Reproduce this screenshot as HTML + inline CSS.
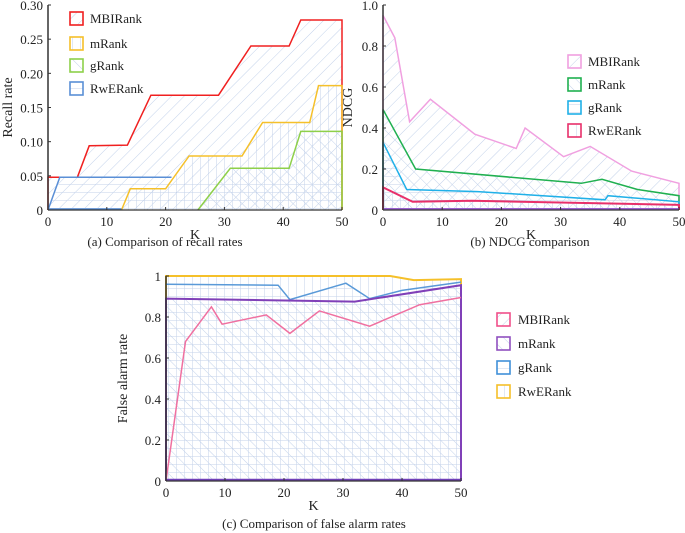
<!DOCTYPE html>
<html><head><meta charset="utf-8"><style>
body{margin:0;background:#fff;}
svg{display:block;font-family:"Liberation Serif",serif;}
</style></head><body>
<svg id="s" width="685" height="533" viewBox="0 0 685 533">
<defs>
<pattern id="hd" width="9" height="9" patternUnits="userSpaceOnUse" patternTransform="rotate(45)"><line x1="0" y1="0" x2="0" y2="9" stroke="#c3d2ea" stroke-width="1"/></pattern>
<pattern id="hb" width="9" height="9" patternUnits="userSpaceOnUse" patternTransform="rotate(-45)"><line x1="0" y1="0" x2="0" y2="9" stroke="#c3d2ea" stroke-width="1"/></pattern>
<pattern id="hv" width="8" height="8" patternUnits="userSpaceOnUse"><line x1="0" y1="0" x2="0" y2="8" stroke="#c3d2ea" stroke-width="1"/></pattern>
<pattern id="hh" width="8" height="8" patternUnits="userSpaceOnUse"><line x1="0" y1="0" x2="8" y2="0" stroke="#c3d2ea" stroke-width="1"/></pattern>
</defs>
</svg>
<script>
const NS='http://www.w3.org/2000/svg';
const svg=document.getElementById('s');
function el(t,a,p){const e=document.createElementNS(NS,t);for(const k in a)e.setAttribute(k,a[k]);(p||svg).appendChild(e);return e;}

// Chart A data
const aXTicks=[0,10,20,30,40,50];
const aYTicks=[0,0.05,0.10,0.15,0.20,0.25,0.30];
const aYLabels=['0','0.05','0.10','0.15','0.20','0.25','0.30'];
const aMBI_K=[0,0,5,7,13.5,17.5,29,34.5,41,43,50];
const aMBI_V=[0,0.048,0.048,0.094,0.095,0.168,0.168,0.24,0.24,0.278,0.278];
const aM_K=[12.5,14,20,24,33,36.5,44.5,46,50];
const aM_V=[0,0.031,0.031,0.079,0.079,0.128,0.128,0.182,0.182];
const aG_K=[25.5,31,41,43,50];
const aG_V=[0,0.061,0.061,0.115,0.115];
const aR_K=[0,2,21];
const aR_V=[0,0.048,0.048];

// Chart B data
const bXTicks=[0,10,20,30,40,50];
const bYTicks=[0,0.2,0.4,0.6,0.8,1.0];
const bYLabels=['0','0.2','0.4','0.6','0.8','1.0'];
const bMBI_K=[0,2,4.5,8,15.5,22.5,24,30.5,35,42,50];
const bMBI_V=[0.95,0.84,0.43,0.54,0.37,0.30,0.40,0.26,0.31,0.19,0.13];
const bM_K=[0,5.5,33.5,37,43,50];
const bM_V=[0.49,0.20,0.13,0.15,0.10,0.07];
const bG_K=[0,4,16,37.5,38,50];
const bG_V=[0.33,0.10,0.09,0.05,0.07,0.04];
const bR_K=[0,5,15,50];
const bR_V=[0.11,0.04,0.045,0.025];

// Chart C data
const cXTicks=[0,10,20,30,40,50];
const cYTicks=[0,0.2,0.4,0.6,0.8,1];
const cYLabels=['0','0.2','0.4','0.6','0.8','1'];
const cR_K=[0,38,42,50];
const cR_V=[1,1,0.98,0.985];
const cG_K=[0,19,21,30.5,34.5,40,50];
const cG_V=[0.96,0.955,0.885,0.965,0.89,0.93,0.97];
const cM_K=[0,32,50];
const cM_V=[0.89,0.875,0.955];
const cMBI_K=[0,3.3,7.7,9.5,17,21,26,34.5,43,50];
const cMBI_V=[0,0.68,0.85,0.765,0.81,0.72,0.83,0.755,0.86,0.895];

function axes(x0,x1,y0,y1,xmax,ymax){return {x:k=>x0+(x1-x0)*k/xmax,y:v=>y0-(y0-y1)*v/ymax,x0,x1,y0,y1};}
function pts(ax,K,V){return K.map((k,i)=>ax.x(k).toFixed(1)+','+ax.y(V[i]).toFixed(1));}
function area(ax,K,V,fill,stroke,name,closeBack,lw){
  const p=pts(ax,K,V);
  const last=K[K.length-1], first=K[0];
  const poly=[...p, ax.x(last).toFixed(1)+','+ax.y(0), ax.x(first).toFixed(1)+','+ax.y(0)];
  const f=el('polygon',{points:poly.join(' '),fill:fill,stroke:'none'});
  
  
  const l=el('polyline',{points:(closeBack?[ax.x(first).toFixed(1)+','+ax.y(0),...p,ax.x(last).toFixed(1)+','+ax.y(0)]:p).join(' '),fill:'none',stroke:stroke,'stroke-width':lw||1.5});
  
  
}
function frame(ax,xt,yt,yl,ylabel,xname,cap,capx,capy,prefix){
  const g=el('g',{});
  
  
  el('line',{x1:ax.x0,y1:ax.y0,x2:ax.x1,y2:ax.y0,stroke:'#333','stroke-width':1.2},g);
  el('line',{x1:ax.x0,y1:ax.y0,x2:ax.x0,y2:ax.y1,stroke:'#333','stroke-width':1.5},g);
  xt.forEach(t=>{el('line',{x1:ax.x(t),y1:ax.y0,x2:ax.x(t),y2:ax.y0-3,stroke:'#333'},g);
    const tx=el('text',{x:ax.x(t),y:ax.y0+16,'font-size':13,'text-anchor':'middle',fill:'#222'},g);tx.textContent=t;
    
    });
  const ymx=yt[yt.length-1];
  yt.forEach((t,i)=>{const yy=ax.y0-(ax.y0-ax.y1)*t/ymx;el('line',{x1:ax.x0,y1:yy,x2:ax.x0+3,y2:yy,stroke:'#333'},g);
    const tx=el('text',{x:ax.x0-5,y:yy+5,'font-size':13,'text-anchor':'end',fill:'#222'},g);tx.textContent=yl[i];
    
    });
  const xl=el('text',{x:(ax.x0+ax.x1)/2,y:ax.y0+29,'font-size':14,'text-anchor':'middle',fill:'#222'});xl.textContent='K';
  
  
  const yx=ylabel[1],yy=(ax.y0+ax.y1)/2;
  const yt2=el('text',{x:yx,y:yy,'font-size':14,'text-anchor':'middle',fill:'#222',transform:`rotate(-90 ${yx} ${yy})`});yt2.textContent=ylabel[0];
  
  
  const c=el('text',{x:capx,y:capy,'font-size':13,'text-anchor':'middle',fill:'#222'});c.textContent=cap;
  
  
}
function legend(x,ys,names,colors,pats,tx,prefix){
  names.forEach((n,i)=>{
    const g=el('g',{});
    
    
    el('rect',{x:x,y:ys[i]-6,width:13,height:13,fill:'url(#'+pats[i]+')',stroke:colors[i],'stroke-width':1.6},g);
    const t=el('text',{x:tx,y:ys[i]+5,'font-size':13,fill:'#222'},g);t.textContent=n;
  });
}

// Chart A
const A=axes(48,342,210,5,50,0.30);
area(A,[...aR_K,50],[...aR_V,0.048],'url(#hh)','none','a-rwerank-fill',false,0);
area(A,aMBI_K,aMBI_V,'url(#hd)','#f02020','a-mbirank',true);
area(A,aM_K,aM_V,'url(#hv)','#f5c02a','a-mrank',true);
area(A,aG_K,aG_V,'url(#hb)','#8ed04a','a-grank',true);
area(A,aR_K,aR_V,'none','#5a8fd6','a-rwerank',false);
el('line',{x1:A.x(0),y1:A.y(0)-1,x2:A.x(12.5),y2:A.y(0)-1,stroke:'#5a8fd6','stroke-width':1.5});
frame(A,aXTicks,aYTicks,aYLabels,['Recall rate',12],'K','(a) Comparison of recall rates',165,246,'a');
legend(70,[18,43,65,88],['MBIRank','mRank','gRank','RwERank'],['#f02020','#f5c02a','#8ed04a','#5a8fd6'],['hd','hv','hb','hh'],90,'a');

// Chart B
const B=axes(383,679,210,5,50,1.0);
area(B,bMBI_K,bMBI_V,'url(#hd)','#f0a0e0','b-mbirank',true);
area(B,bM_K,bM_V,'url(#hb)','#20b050','b-mrank',true);
area(B,bG_K,bG_V,'url(#hh)','#20b0e8','b-grank',true);
area(B,bR_K,bR_V,'url(#hv)','#e8306a','b-rwerank',true,2);
el('line',{x1:B.x(0),y1:B.y(0)-1,x2:B.x(50),y2:B.y(0)-1,stroke:'#9a60d0','stroke-width':2});
frame(B,bXTicks,bYTicks,bYLabels,['NDCG',352],'K','(b) NDCG comparison',530,246,'b');
legend(568,[61,84,107,130],['MBIRank','mRank','gRank','RwERank'],['#f0a0e0','#20b050','#20b0e8','#e8306a'],['hd','hb','hh','hv'],588,'b');

// Chart C
const C=axes(166,461,481,276,50,1);
area(C,cR_K,cR_V,'url(#hv)','#f5c02a','c-rwerank',true,2);
area(C,cG_K,cG_V,'url(#hh)','#5a9ad8','c-grank',false);
area(C,cM_K,cM_V,'url(#hb)','#8040b8','c-mrank',true,2);
area(C,cMBI_K,cMBI_V,'none','#f070a0','c-mbirank',false);
el('line',{x1:C.x(0),y1:C.y(0)-1,x2:C.x(50),y2:C.y(0)-1,stroke:'#7040b8','stroke-width':2.5});
frame(C,cXTicks,cYTicks,cYLabels,['False alarm rate',127],'K','(c) Comparison of false alarm rates',314,528,'c');
legend(497,[319,343,367,391],['MBIRank','mRank','gRank','RwERank'],['#f0508a','#9050c0','#4090d8','#f5c02a'],['hd','hb','hh','hv'],518,'c');
</script>
</body></html>
